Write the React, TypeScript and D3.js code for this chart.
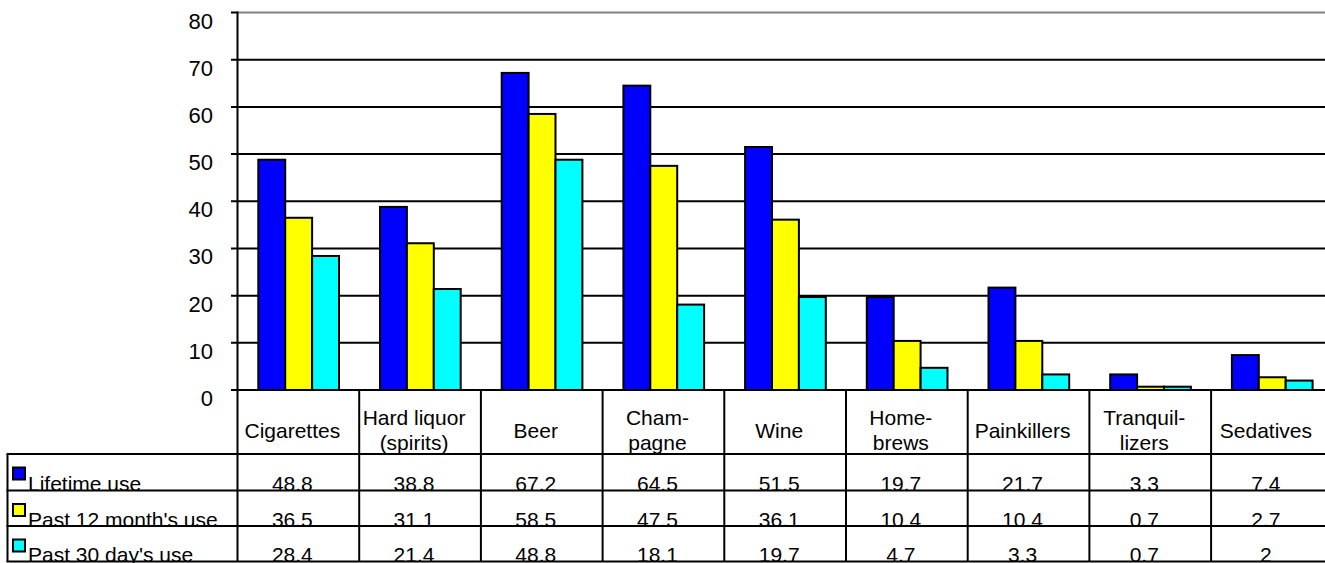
import React from "react";
import * as d3 from "d3";

const categories = ["Cigarettes", "Hard liquor (spirits)", "Beer", "Champagne", "Wine", "Home-brews", "Painkillers", "Tranquilizers", "Sedatives"];
const categoryLines = [["Cigarettes"], ["Hard liquor", "(spirits)"], ["Beer"], ["Cham-", "pagne"], ["Wine"], ["Home-", "brews"], ["Painkillers"], ["Tranquil-", "lizers"], ["Sedatives"]];
const seriesNames = ["Lifetime use", "Past 12 month's use", "Past 30 day's use"];
const seriesColors = ["#0000FF", "#FFFF00", "#00FFFF"];
const lifetime = [48.8, 38.8, 67.2, 64.5, 51.5, 19.7, 21.7, 3.3, 7.4];
const past12 = [36.5, 31.1, 58.5, 47.5, 36.1, 10.4, 10.4, 0.7, 2.7];
const past30 = [28.4, 21.4, 48.8, 18.1, 19.7, 4.7, 3.3, 0.7, 2];
const valueLabels = [
  ["48.8", "38.8", "67.2", "64.5", "51.5", "19.7", "21.7", "3.3", "7.4"],
  ["36.5", "31.1", "58.5", "47.5", "36.1", "10.4", "10.4", "0.7", "2.7"],
  ["28.4", "21.4", "48.8", "18.1", "19.7", "4.7", "3.3", "0.7", "2"],
];
const yTicks = [0, 10, 20, 30, 40, 50, 60, 70, 80];

const W = 1325;
const H = 563;
const FONT = "'Liberation Sans', Arial, sans-serif";

export default function App() {
  const seriesData = [lifetime, past12, past30];
  const left = 237.5;
  const band = 121.7;
  const x = d3.scaleBand<string>().domain(categories).range([left, left + band * categories.length]).padding(0);
  const x1 = d3.scaleBand<string>().domain(seriesNames).range([20.8, band - 20.2]).padding(0);
  const y = d3.scaleLinear().domain([0, 80]).range([390, 12.5]);
  const right = left + band * categories.length;

  const headerTop = y(0);
  const headerBottom = 454;
  const rowEdges = [454, 490.5, 526, 561.5];
  const tableLeft = 7.5;

  return (
    <svg width={W} height={H} style={{ position: "absolute", left: 0, top: 0, background: "#fff" }} fontFamily={FONT}>
      {/* gridlines */}
      {yTicks.map((t) => (
        <g key={`g${t}`}>
          {t === 80 ? (
            <>
              <line x1={left} x2={right} y1={y(t)} y2={y(t)} stroke="#808080" strokeWidth={2} />
              <line x1={231} x2={left} y1={y(t)} y2={y(t)} stroke="#000" strokeWidth={2} />
            </>
          ) : (
            <line x1={231} x2={right} y1={y(t)} y2={y(t)} stroke="#000" strokeWidth={2} />
          )}
          <text x={213} y={y(t) + 16} textAnchor="end" fontSize={22} fill="#000">
            {t}
          </text>
        </g>
      ))}
      {/* bars */}
      {categories.map((c, i) => (
        <g key={`b${i}`} transform={`translate(${x(c)},0)`}>
          {seriesNames.map((s, k) => {
            const v = seriesData[k][i];
            return (
              <rect
                key={s}
                x={x1(s)!}
                y={y(v)}
                width={x1.bandwidth()}
                height={y(0) - y(v)}
                fill={seriesColors[k]}
                stroke="#000"
                strokeWidth={2}
              />
            );
          })}
        </g>
      ))}
      {/* header row labels */}
      {categories.map((c, i) => (
        <g key={`h${i}`}>
          {categoryLines[i].map((ln, j) => {
            const n = categoryLines[i].length;
            const base = n === 1 ? 437.5 : 425 + j * 24.5;
            return (
              <text key={j} x={x(c)! + band / 2 - 6} y={base} textAnchor="middle" fontSize={21} fill="#000">
                {ln}
              </text>
            );
          })}
        </g>
      ))}
      {/* data table text */}
      {seriesNames.map((s, r) => (
        <g key={`r${r}`}>
          <text x={28} y={rowEdges[r + 1] + 0.5} fontSize={21} fill="#000">
            {s}
          </text>
          {categories.map((c, i) => (
            <text key={c} x={x(c)! + band / 2 - 6} y={rowEdges[r + 1] + 0.5} textAnchor="middle" fontSize={21} fill="#000">
              {valueLabels[r][i]}
            </text>
          ))}
          <rect
            x={13}
            y={rowEdges[r] + 13.5}
            width={12}
            height={12}
            fill={seriesColors[r]}
            stroke="#000"
            strokeWidth={2}
          />
        </g>
      ))}
      {/* axis and table lines */}
      <line x1={left} x2={left} y1={y(80) - 1} y2={rowEdges[3]} stroke="#000" strokeWidth={2} />
      {categories.map((c) => (
        <line key={`v${c}`} x1={x(c)! + band} x2={x(c)! + band} y1={headerTop} y2={rowEdges[3]} stroke="#000" strokeWidth={2} />
      ))}
      {rowEdges.map((e, k) => (
        <line key={`re${k}`} x1={tableLeft - 1} x2={right} y1={e} y2={e} stroke="#000" strokeWidth={2} />
      ))}
      <line x1={tableLeft} x2={tableLeft} y1={rowEdges[0]} y2={rowEdges[3]} stroke="#000" strokeWidth={2} />
    </svg>
  );
}
